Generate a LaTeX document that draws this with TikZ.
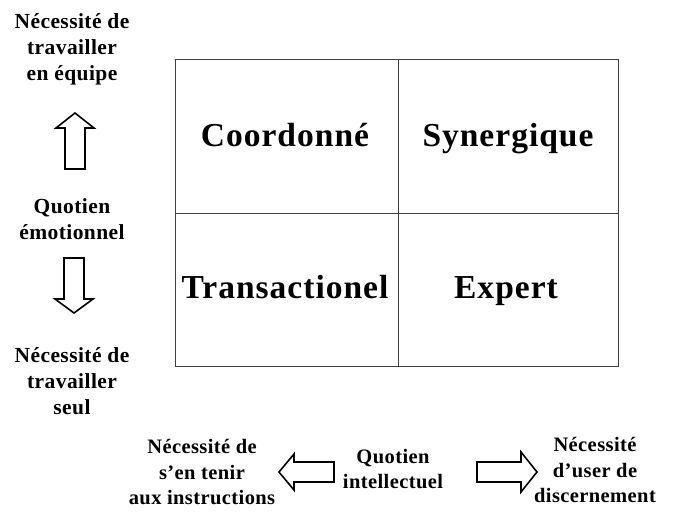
\documentclass[tikz,border=0pt]{standalone}
\usepackage{fontspec}
\setmainfont{Liberation Serif}
\begin{document}
\begin{tikzpicture}[x=1pt,y=-1pt,
  lab/.style={font=\fontsize{21.5}{26}\selectfont\bfseries\addfontfeature{LetterSpace=2}, align=center, inner sep=0pt},
  quad/.style={font=\fontsize{33.5}{38}\selectfont\bfseries\addfontfeature{LetterSpace=3}, inner sep=0pt, anchor=base},
  gridline/.style={draw=black!75, line width=0.8pt},
  hollow/.style={draw=black, line width=1.6pt, line join=miter, fill=white}]
\useasboundingbox (0,0) rectangle (683,512);
% grid
\draw[gridline] (175,59) rectangle (618,366);
\draw[gridline] (398,59) -- (398,366);
\draw[gridline] (175,213) -- (618,213);
% quadrant labels
\node[quad] (coord) at (285,146) {Coordonné};
\node[quad] (syn) at (508,146) {Synergique};
\node[quad] (trans) at (285,298) {Transactionel};
\node[quad] (exp) at (506,298) {Expert};
% left labels
\node[lab] (equipe) at (72,49) {Nécessité de\\travailler\\en équipe};
\node[lab] (qe) at (72,219) {Quotien\\émotionnel};
\node[lab] (seul) at (72,381) {Nécessité de\\travailler\\seul};
% bottom labels
\node[lab, font=\fontsize{20.5}{25.5}\selectfont\bfseries\addfontfeature{LetterSpace=2}] (instr) at (202,472) {Nécessité de\\s’en tenir\\aux instructions};
\node[lab, font=\fontsize{20.5}{25.5}\selectfont\bfseries\addfontfeature{LetterSpace=2}] (qi) at (393,469) {Quotien\\intellectuel};
\node[lab, font=\fontsize{20.5}{25.5}\selectfont\bfseries\addfontfeature{LetterSpace=2}] (disc) at (595,470) {Nécessité\\d’user de\\discernement};
% hollow arrows
\draw[hollow] (65,169) -- (65,128) -- (56,128) -- (75,113) -- (94,128) -- (85,128) -- (85,169) -- cycle;
\draw[hollow] (64,258) -- (64,299) -- (55,299) -- (74,313) -- (93,299) -- (84,299) -- (84,258) -- cycle;
\draw[hollow] (334,462) -- (294,462) -- (294,454) -- (279,472) -- (294,490) -- (294,482) -- (334,482) -- cycle;
\draw[hollow] (477,462) -- (521,462) -- (521,452) -- (537,472) -- (521,492) -- (521,482) -- (477,482) -- cycle;
\end{tikzpicture}
\end{document}
